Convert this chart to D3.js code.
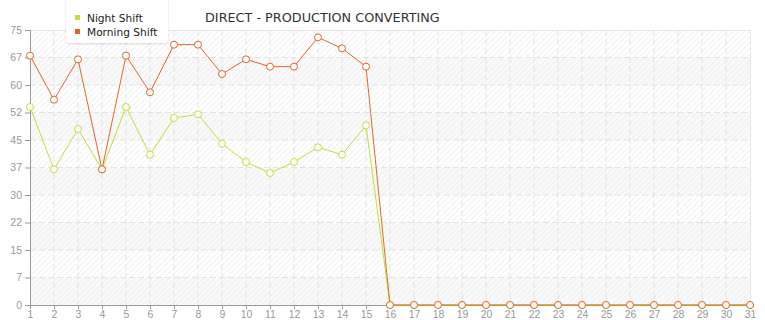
<!DOCTYPE html>
<html>
<head>
<meta charset="utf-8">
<script src="https://cdn.jsdelivr.net/npm/d3@7"></script>
<style>
  body { margin: 0; background: #fff; }
  svg { display: block; font-family: "DejaVu Sans", Verdana, sans-serif; }
</style>
</head>
<body>
<div id="chart"></div>
<script>
var days = d3.range(1, 32);
var nightShift = [54, 37, 48, 37, 54, 41, 51, 52, 44, 39, 36, 39, 43, 41, 49,
  0, 0, 0, 0, 0, 0, 0, 0, 0, 0, 0, 0, 0, 0, 0, 0];
var morningShift = [68, 56, 67, 37, 68, 58, 71, 71, 63, 67, 65, 65, 73, 70, 65,
  0, 0, 0, 0, 0, 0, 0, 0, 0, 0, 0, 0, 0, 0, 0, 0];
var yTicks = d3.range(0, 75.1, 7.5);

var series = [
  {name: "Night Shift", values: nightShift, color: "#c4df3a"},
  {name: "Morning Shift", values: morningShift, color: "#e2652d"}
];

var width = 765, height = 320;
var margin = {top: 30, right: 15, bottom: 15, left: 30};

var svg = d3.select("#chart").append("svg")
    .attr("width", width)
    .attr("height", height);

var x = d3.scaleLinear()
    .domain([1, 31])
    .range([margin.left, width - margin.right]);

var y = d3.scaleLinear()
    .domain([0, 75])
    .range([height - margin.bottom, margin.top]);

var defs = svg.append("defs");
var pat = defs.append("pattern")
    .attr("id", "hatch")
    .attr("width", 4).attr("height", 4)
    .attr("patternUnits", "userSpaceOnUse")
    .attr("patternTransform", "rotate(45)");
pat.append("line")
    .attr("x1", 0).attr("y1", 0).attr("x2", 0).attr("y2", 4)
    .attr("stroke", "#eeeeee").attr("stroke-width", 1.5);

// alternating bands
var bands = svg.append("g");
for (var i = 0; i < yTicks.length - 1; i++) {
  bands.append("rect")
    .attr("x", x(1)).attr("width", x(31) - x(1))
    .attr("y", y(yTicks[i + 1])).attr("height", y(yTicks[i]) - y(yTicks[i + 1]))
    .attr("fill", i % 2 == 0 ? "#f9f9f9" : "#fff");
}
svg.append("rect")
  .attr("x", x(1)).attr("width", x(31) - x(1))
  .attr("y", y(75)).attr("height", y(0) - y(75))
  .attr("fill", "url(#hatch)");

// grid
svg.append("g")
  .selectAll("line")
  .data(days.slice(1, -1))
  .enter().append("line")
    .attr("x1", d => x(d)).attr("x2", d => x(d))
    .attr("y1", y(75)).attr("y2", y(0))
    .attr("stroke", "#e3e3e3")
    .attr("stroke-dasharray", "6,3");
svg.append("g")
  .selectAll("line")
  .data(yTicks.slice(1, -1))
  .enter().append("line")
    .attr("x1", x(1)).attr("x2", x(31))
    .attr("y1", d => y(d)).attr("y2", d => y(d))
    .attr("stroke", "#e3e3e3")
    .attr("stroke-dasharray", "6,3");

// border top / right
svg.append("path")
  .attr("d", `M${x(1)},${y(75) + 0.5}H${x(31) + 0.5}V${y(0)}`)
  .attr("fill", "none")
  .attr("stroke", "#e6e6e6");

// axes
var yAxis = svg.append("g")
    .attr("transform", `translate(${x(1)},0)`)
    .call(d3.axisLeft(y).tickValues(yTicks).tickFormat(d => Math.floor(d)).tickSize(5).tickPadding(3));
var xAxis = svg.append("g")
    .attr("transform", `translate(0,${y(0)})`)
    .call(d3.axisBottom(x).tickValues(days).tickFormat(d3.format("d")).tickSize(4).tickPadding(2));

[yAxis, xAxis].forEach(function (a) {
  a.select(".domain").attr("stroke", "#999");
  a.selectAll(".tick line").attr("stroke", "#999");
  a.selectAll(".tick text").attr("fill", "#999").style("font-size", "10.5px");
});

// lines
var line = d3.line()
    .x((d, i) => x(days[i]))
    .y(d => y(d));

series.forEach(function (s) {
  svg.append("path")
    .datum(s.values)
    .attr("fill", "none")
    .attr("stroke", s.color)
    .attr("stroke-width", 1)
    .attr("d", line);
});
series.forEach(function (s) {
  svg.append("g")
    .selectAll("circle")
    .data(s.values)
    .enter().append("circle")
      .attr("cx", (d, i) => x(days[i]))
      .attr("cy", d => y(d))
      .attr("r", 3.5)
      .attr("fill", "#fff")
      .attr("stroke", s.color)
      .attr("stroke-width", 1);
});

// title
svg.append("text")
  .attr("x", 205).attr("y", 22)
  .attr("fill", "#333")
  .style("font-size", "12.8px")
  .text("DIRECT - PRODUCTION CONVERTING");

// legend
var filt = defs.append("filter").attr("id", "shadow").attr("x", "-20%").attr("y", "-20%").attr("width", "140%").attr("height", "150%");
filt.append("feDropShadow").attr("dx", 0).attr("dy", 1).attr("stdDeviation", 1.2).attr("flood-color", "#000").attr("flood-opacity", 0.15);

var legend = svg.append("g");
legend.append("rect")
  .attr("x", 66).attr("y", -6).attr("width", 102).attr("height", 49)
  .attr("rx", 4)
  .attr("fill", "#fff")
  .attr("filter", "url(#shadow)");
series.forEach(function (s, i) {
  legend.append("rect")
    .attr("x", 75).attr("y", 15 + i * 14)
    .attr("width", 5).attr("height", 5)
    .attr("fill", s.color);
  legend.append("text")
    .attr("x", 87).attr("y", 21.5 + i * 14)
    .attr("fill", "#222")
    .style("font-size", "10.6px")
    .text(s.name);
});
</script>
</body>
</html>
